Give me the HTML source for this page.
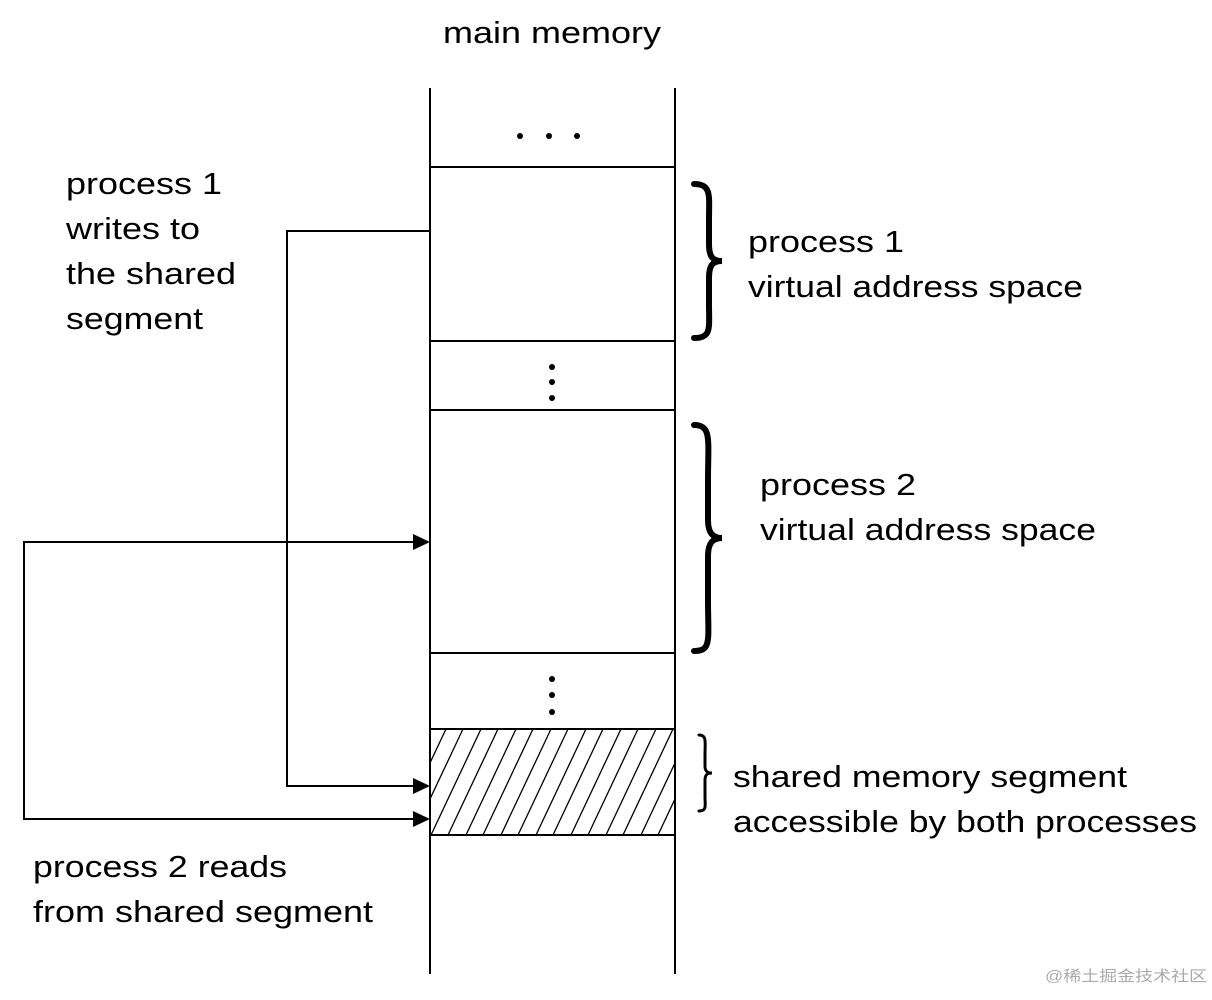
<!DOCTYPE html>
<html><head><meta charset="utf-8"><style>html,body{margin:0;padding:0;background:#fff}</style></head>
<body>
<svg width="1212" height="995" viewBox="0 0 1212 995" xmlns="http://www.w3.org/2000/svg">
<defs>
<clipPath id="c"><rect x="430" y="729" width="245" height="106"/></clipPath>
</defs>
<g stroke="#000" stroke-width="2" fill="none">
<line x1="430" y1="88" x2="430" y2="974"/>
<line x1="675" y1="88" x2="675" y2="974"/>
<line x1="430" y1="167" x2="675" y2="167"/>
<line x1="430" y1="341" x2="675" y2="341"/>
<line x1="430" y1="410" x2="675" y2="410"/>
<line x1="430" y1="653" x2="675" y2="653"/>
<line x1="430" y1="729" x2="675" y2="729"/>
<line x1="430" y1="835" x2="675" y2="835"/>
<polyline points="430,231 287,231 287,786 414,786"/>
<polyline points="414,542 24,542 24,819 414,819"/>
</g>
<g clip-path="url(#c)" stroke="#000" stroke-width="1.3">
<line x1="396" y1="835" x2="446" y2="729"/><line x1="413" y1="835" x2="463" y2="729"/><line x1="431" y1="835" x2="481" y2="729"/><line x1="448" y1="835" x2="498" y2="729"/><line x1="466" y1="835" x2="516" y2="729"/><line x1="483" y1="835" x2="533" y2="729"/><line x1="501" y1="835" x2="551" y2="729"/><line x1="518" y1="835" x2="568" y2="729"/><line x1="536" y1="835" x2="586" y2="729"/><line x1="553" y1="835" x2="603" y2="729"/><line x1="571" y1="835" x2="621" y2="729"/><line x1="588" y1="835" x2="638" y2="729"/><line x1="606" y1="835" x2="656" y2="729"/><line x1="623" y1="835" x2="673" y2="729"/><line x1="641" y1="835" x2="691" y2="729"/><line x1="658" y1="835" x2="708" y2="729"/>
</g>
<g fill="#000">
<polygon points="430,542 413,534 413,550"/>
<polygon points="430,786 413,778 413,794"/>
<polygon points="430,819 413,811 413,827"/>
<circle cx="520" cy="136" r="3"/><circle cx="549" cy="136" r="3"/><circle cx="577" cy="136" r="3"/>
<circle cx="552" cy="367" r="3"/><circle cx="552" cy="382" r="3"/><circle cx="552" cy="398" r="3"/>
<circle cx="552" cy="679" r="3"/><circle cx="552" cy="695" r="3"/><circle cx="552" cy="712" r="3"/>
</g>
<g stroke="#000" fill="none" stroke-linecap="round">
<path d="M694,184 C712,184 709,196 709,220 L709,244 C709,256 712,261 722,261 C712,261 709,266 709,278 L709,304 C709,328 712,338 694,338" stroke-width="6"/>
<path d="M694,425 C712,425 708,440 708,480 L708,520 C708,532 712,538 722,538 C712,538 708,544 708,556 L708,600 C708,640 712,651 694,651" stroke-width="6"/>
<path d="M699,735 C707,735 705,742 705,755 L705,766 C705,771 707,773 712,773 C707,773 705,775 705,780 L705,796 C705,806 707,811 699,811" stroke-width="3"/>
</g>
<g font-family="Liberation Sans, sans-serif" font-size="31" fill="#000">
<text x="443" y="43" textLength="218" lengthAdjust="spacingAndGlyphs">main memory</text>
<text x="66" y="194" textLength="156" lengthAdjust="spacingAndGlyphs">process 1</text>
<text x="66" y="239" textLength="134" lengthAdjust="spacingAndGlyphs">writes to</text>
<text x="66" y="284" textLength="170" lengthAdjust="spacingAndGlyphs">the shared</text>
<text x="66" y="329" textLength="137" lengthAdjust="spacingAndGlyphs">segment</text>
<text x="748" y="252" textLength="156" lengthAdjust="spacingAndGlyphs">process 1</text>
<text x="748" y="297" textLength="335" lengthAdjust="spacingAndGlyphs">virtual address space</text>
<text x="760" y="495" textLength="156" lengthAdjust="spacingAndGlyphs">process 2</text>
<text x="760" y="540" textLength="336" lengthAdjust="spacingAndGlyphs">virtual address space</text>
<text x="733" y="787" textLength="394" lengthAdjust="spacingAndGlyphs">shared memory segment</text>
<text x="733" y="832" textLength="464" lengthAdjust="spacingAndGlyphs">accessible by both processes</text>
<text x="33" y="877" textLength="254" lengthAdjust="spacingAndGlyphs">process 2 reads</text>
<text x="33" y="922" textLength="340" lengthAdjust="spacingAndGlyphs">from shared segment</text>
</g>
<text x="1045" y="981" font-family="Liberation Sans, Noto Sans CJK SC, sans-serif" font-size="15" fill="#aaa" textLength="162" lengthAdjust="spacingAndGlyphs">@稀土掘金技术社区</text>
</svg>
</body></html>
